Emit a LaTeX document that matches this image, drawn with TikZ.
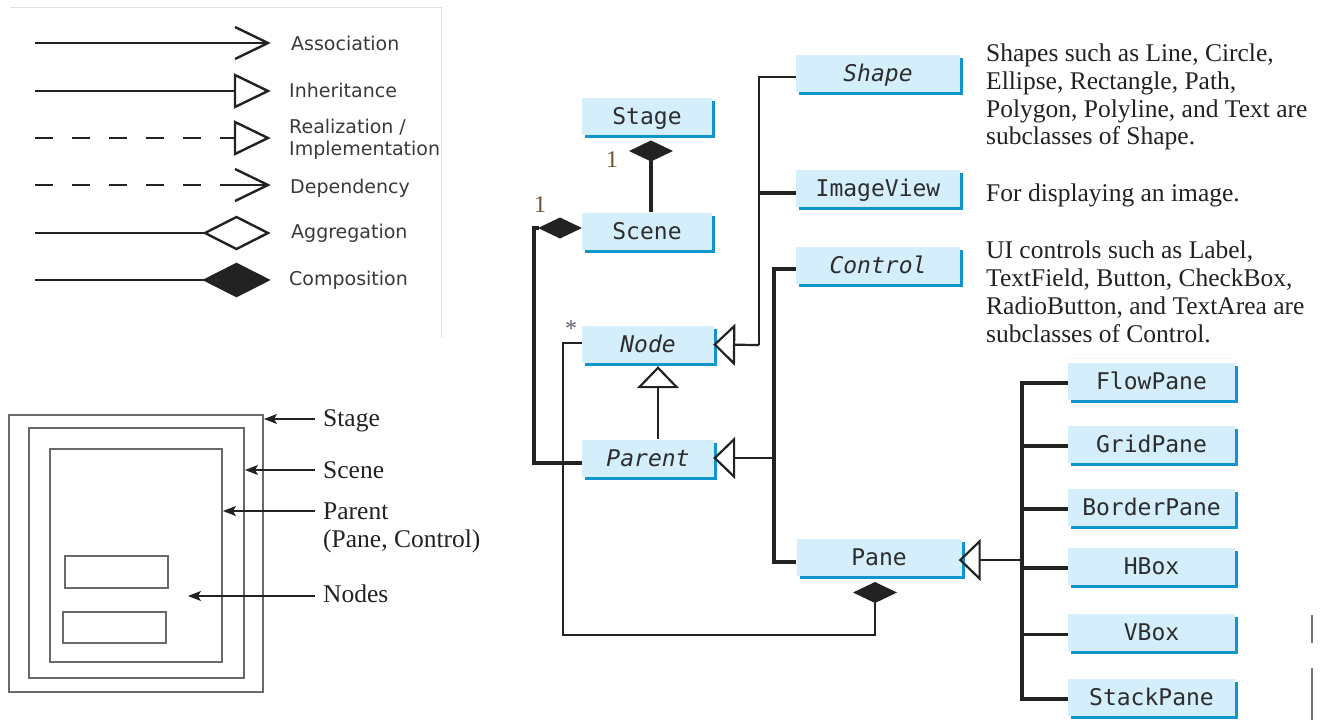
\documentclass[tikz,border=0pt]{standalone}
\usepackage{fontspec}
\setmainfont{Liberation Serif}
\newfontfamily\legendfont{DejaVu Sans}
\newfontfamily\monof[ItalicFont={DejaVu Sans Mono Oblique}]{DejaVu Sans Mono}
\usetikzlibrary{arrows.meta,shapes.geometric,shadows}
\definecolor{boxfill}{RGB}{212,238,251}
\definecolor{boxshadow}{RGB}{16,150,205}
\definecolor{ink}{RGB}{34,34,34}
\definecolor{clstext}{RGB}{45,45,45}
\definecolor{framegray}{RGB}{105,105,105}
\definecolor{multc}{RGB}{110,80,50}
\definecolor{starc}{RGB}{95,95,115}
\definecolor{legtext}{RGB}{58,58,58}
\definecolor{legframe}{RGB}{222,222,222}
\definecolor{faint}{RGB}{244,244,244}
\definecolor{scanmark}{RGB}{120,120,120}
\begin{document}
\begin{tikzpicture}[x=1pt,y=-1pt,line join=miter,
  cls/.style={fill=boxfill,minimum height=37pt,inner sep=0pt,text=clstext,
    font=\monof\fontsize{23}{23}\selectfont,text height=16.8pt,text depth=0pt,
    drop shadow={shadow xshift=3pt,shadow yshift=-3pt,fill=boxshadow,opacity=1}},
  abs/.style={font=\monof\itshape\fontsize{23}{23}\selectfont},
  thinline/.style={draw=ink,line width=2.2pt},
  thickline/.style={draw=ink,line width=3.6pt},
  inh/.style={thinline,-{Triangle[open,length=22pt,width=42pt]}},
  compfill/.style={fill=ink},
  legline/.style={draw=ink,line width=2.4pt},
  legtxt/.style={text=legtext,font=\legendfont\fontsize{19}{19}\selectfont,inner sep=0pt,anchor=base west},
  serif/.style={text=ink,font=\fontsize{25.5}{27.7}\selectfont,inner sep=0pt},
  rectline/.style={draw=framegray,line width=1.4pt},
  ptr/.style={draw=ink,line width=1.2pt,-{Stealth[length=13pt,width=10pt,inset=3pt]}},
  mlabel/.style={font=\fontsize{24}{24}\selectfont,inner sep=0pt,anchor=base}]
\useasboundingbox (0,0) rectangle (1322,721);
\fill[white] (0,0) rectangle (1322,721);

% ---------------- legend ----------------
\draw[legframe,line width=1pt] (10,7) -- (441,7) -- (441,338);
\draw[legline] (35,43) -- (268,43);
\draw[legline] (235,27) -- (268,43) -- (235,59);
\node[legtxt] (tAssoc) at (291,50) {Association};
\draw[legline] (35,91) -- (235,91);
\draw[legline,fill=white] (235,75) -- (268,91) -- (235,107) -- cycle;
\node[legtxt] (tInh) at (289,97) {Inheritance};
\draw[legline,dash pattern=on 18pt off 19pt] (35,138) -- (235,138);
\draw[legline,fill=white] (235,122) -- (268,138) -- (235,154) -- cycle;
\node[legtxt] (tReal1) at (289,133) {Realization /};
\node[legtxt] (tReal2) at (289,155) {Implementation};
\draw[legline,dash pattern=on 18pt off 19pt] (35,185) -- (238,185);
\draw[legline] (220,185) -- (268,185);
\draw[legline] (235,169) -- (268,185) -- (235,201);
\node[legtxt] (tDep) at (290,193) {Dependency};
\draw[legline] (35,233) -- (205,233);
\draw[legline,fill=white] (205,233) -- (236.5,217) -- (268,233) -- (236.5,249) -- cycle;
\node[legtxt] (tAgg) at (291,238) {Aggregation};
\draw[legline] (35,280) -- (205,280);
\draw[legline,fill=ink] (205,280) -- (236.5,264) -- (268,280) -- (236.5,296) -- cycle;
\node[legtxt] (tComp) at (289,285) {Composition};

% ---------------- stage sketch ----------------
\draw[rectline] (9,415) rectangle (263,692);
\draw[rectline] (29,428) rectangle (244,678);
\draw[rectline] (50,449) rectangle (222,662);
\draw[rectline] (65,556) rectangle (168,588);
\draw[rectline] (63,612) rectangle (166,643);
\coordinate (pStage) at (315,419);
\coordinate (pScene) at (315,470);
\coordinate (pParent) at (315,511);
\coordinate (pNodes) at (315,596);
\draw[ptr] (pStage) -- (264,419);
\draw[ptr] (pScene) -- (245,470);
\draw[ptr] (pParent) -- (223,511);
\draw[ptr] (pNodes) -- (188,596);
\node[serif,anchor=base west] (lStage) at (323,426) {Stage};
\node[serif,anchor=base west] (lScene) at (323,478) {Scene};
\node[serif,anchor=base west] (lParent) at (323,519) {Parent};
\node[serif,anchor=base west] (lParent2) at (323,547) {(Pane, Control)};
\node[serif,anchor=base west] (lNodes) at (323,602) {Nodes};

% ---------------- class diagram ----------------
\node[cls,minimum width=130pt] (Stage) at (647,116.5) {Stage};
\node[cls,minimum width=130pt] (Scene) at (647,231) {Scene};
\node[cls,abs,minimum width=132pt] (Node) at (648,344.5) {Node};
\node[cls,abs,minimum width=132pt] (Parent) at (648,458) {Parent};
\node[cls,abs,minimum width=164pt] (Shape) at (878,73.5) {Shape};
\node[cls,minimum width=164pt] (ImageView) at (878,188.5) {ImageView};
\node[cls,abs,minimum width=164pt] (Control) at (878,265.5) {Control};
\node[cls,minimum width=165pt] (Pane) at (879,557) {Pane};
\node[cls,minimum width=167pt] (FlowPane) at (1151.5,381) {FlowPane};
\node[cls,minimum width=167pt] (GridPane) at (1151.5,444) {GridPane};
\node[cls,minimum width=167pt] (BorderPane) at (1151.5,507) {BorderPane};
\node[cls,minimum width=167pt] (HBox) at (1151.5,566) {HBox};
\node[cls,minimum width=167pt] (VBox) at (1151.5,632.5) {VBox};
\node[cls,minimum width=167pt] (StackPane) at (1151.5,697) {StackPane};

% composition diamonds (centres)
\coordinate (dStage) at (651,151);
\coordinate (dScene) at (560,228);
\coordinate (dPane) at (875,592.5);
\foreach \d in {dStage,dScene,dPane}{
  \fill[compfill] (\d) +(-22,0) -- +(0,-10.5) -- +(22,0) -- +(0,10.5) -- cycle;
}
\coordinate (dStageS) at ([yshift=-10pt]dStage);
\coordinate (dSceneW) at ([xshift=-21pt]dScene);
\coordinate (dPaneS) at ([yshift=-10pt]dPane);
\draw[thickline] (dStageS) -- (dStageS |- Scene.north);
\coordinate (prw) at ([yshift=-5pt]Parent.west);
\draw[thickline] (dSceneW) -| (534,463) -- (prw);
\coordinate (ndw) at ([yshift=1.5pt]Node.west);
\draw[thinline] (ndw) -| (563,635) -| (dPaneS);
\node[mlabel,text=multc] (m1) at (612,167) {1};
\node[mlabel,text=multc] (m2) at (540,212) {1};
\node[mlabel,text=starc] (m3) at (571,336) {*};

\coordinate (pnN) at ([xshift=10pt]Parent.north);
\coordinate (ndS) at ([xshift=10pt]Node.south);
\draw[inh,shorten >=3pt] (pnN) -- (ndS);

\coordinate (busA) at (759,345);
\coordinate (shw) at ([yshift=-3.5pt]Shape.west);
\coordinate (ivw) at ([yshift=-4.5pt]ImageView.west);
\draw[thinline] (shw) -| (busA);
\draw[thickline] (ivw) -- (ivw -| busA);
\draw[inh,shorten >=-1pt] (busA) -- (Node.east);

\coordinate (busB) at (774,458);
\coordinate (ctw) at ([yshift=-3.5pt]Control.west);
\coordinate (pnw) at ([yshift=-5pt]Pane.west);
\draw[thickline] (ctw) -| (busB) |- (pnw);
\draw[inh,shorten >=-1pt] (busB) -- (Parent.east);

\coordinate (busC) at (1022,560);
\draw[inh,shorten >=-3pt] (busC) -- (busC -| Pane.east);
\foreach \n in {FlowPane,GridPane,BorderPane,HBox,VBox,StackPane}{
  \coordinate (w\n) at ([yshift=-2pt]\n.west);
}
\draw[thickline] (wFlowPane) -| (busC);
\draw[thickline] (wStackPane) -| (busC);
\draw[thickline] (wGridPane) -- (wGridPane -| busC);
\draw[thickline] (wBorderPane) -- (wBorderPane -| busC);
\draw[thickline] (wHBox) -- (wHBox -| busC);
\draw[thickline] (wVBox) -- (wVBox -| busC);

\node[serif,anchor=north west,align=left] (dShape) at (986,44)
  {Shapes such as Line, Circle,\\Ellipse, Rectangle, Path,\\Polygon, Polyline, and Text are\\subclasses of Shape.};
\node[serif,anchor=base west] (dImage) at (986,201.5) {For displaying an image.};
\node[serif,anchor=north west,align=left] (dControl) at (986,241)
  {UI controls such as Label,\\TextField, Button, CheckBox,\\RadioButton, and TextArea are\\subclasses of Control.};

\draw[faint,line width=1pt] (1067,358) -- (1233,358);
\draw[scanmark,line width=2pt] (1312,615) -- (1312,643);
\draw[scanmark,line width=2pt] (1312,668) -- (1312,720);
\end{tikzpicture}
\end{document}
